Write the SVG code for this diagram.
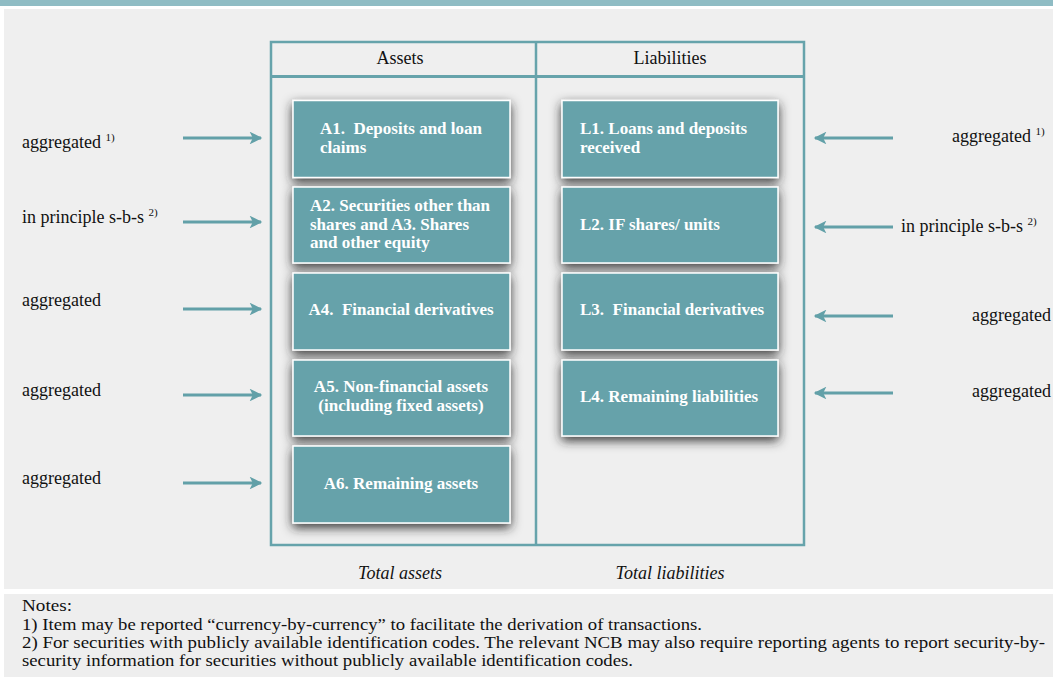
<svg xmlns="http://www.w3.org/2000/svg" width="1053" height="677" viewBox="0 0 1053 677">
<style>
.t{font-family:"Liberation Serif","Times New Roman",serif;font-size:18px;fill:#111}
.n{font-family:"Liberation Serif","Times New Roman",serif;font-size:17px;fill:#111}
.b{font-family:"Liberation Serif","Times New Roman",serif;font-size:17px;font-weight:bold;fill:#fff}
.i{font-style:italic}
.box{fill:#66a2aa;stroke:#ffffff;stroke-width:1.5;filter:url(#sh)}
.arr{stroke:#62a0a8;stroke-width:3;fill:none;marker-end:url(#ah)}
.ln{stroke:#66a3ab;fill:none}
.sup{font-size:11px}
</style>
<defs>
<filter id="sh" x="-20%" y="-30%" width="140%" height="170%">
<feDropShadow dx="0" dy="4" stdDeviation="5.5" flood-color="#222" flood-opacity="0.9"/>
</filter>
<marker id="ah" viewBox="0 0 10 10" refX="9" refY="5" markerWidth="5" markerHeight="4.2" orient="auto" markerUnits="strokeWidth">
<path d="M0,0 L10,5 L0,10 L2.5,5 Z" fill="#62a0a8"/>
</marker>
</defs>
<rect x="0" y="0" width="1053" height="677" fill="#ffffff"/>
<rect x="0" y="0" width="1053" height="6" fill="#8fbcc4"/>
<rect x="4" y="9" width="1049" height="580" fill="#efefef"/>
<rect x="4" y="594" width="1049" height="83" fill="#eeeeee"/>

<g id="table">
<rect class="ln" x="271" y="42" width="533" height="503" stroke-width="2.5"/>
<line class="ln" x1="271" y1="76.5" x2="804" y2="76.5" stroke-width="3"/>
<line class="ln" x1="536" y1="42" x2="536" y2="545" stroke-width="2.5"/>
<text class="t" x="400" y="64" text-anchor="middle">Assets</text>
<text class="t" x="670" y="64" text-anchor="middle">Liabilities</text>
<text class="t i" x="400" y="579" text-anchor="middle">Total assets</text>
<text class="t i" x="670" y="579" text-anchor="middle">Total liabilities</text>
</g>

<g id="A1"><rect class="box" x="293" y="100.5" width="217" height="77"/>
<text class="b" x="320" y="134">A1.&#160; Deposits and loan</text>
<text class="b" x="320" y="153">claims</text></g>
<g id="A2"><rect class="box" x="293" y="187" width="217" height="76"/>
<text class="b" x="310" y="211">A2. Securities other than</text>
<text class="b" x="310" y="229.5">shares and A3. Shares</text>
<text class="b" x="310" y="248">and other equity</text></g>
<g id="A4"><rect class="box" x="293" y="273" width="217" height="77"/>
<text class="b" x="401" y="315" text-anchor="middle">A4.&#160; Financial derivatives</text></g>
<g id="A5"><rect class="box" x="293" y="360" width="217" height="76"/>
<text class="b" x="401" y="392" text-anchor="middle">A5. Non-financial assets</text>
<text class="b" x="401" y="411" text-anchor="middle">(including fixed assets)</text></g>
<g id="A6"><rect class="box" x="293" y="446" width="217" height="77"/>
<text class="b" x="401" y="489" text-anchor="middle">A6. Remaining assets</text></g>

<g id="L1"><rect class="box" x="562" y="100.5" width="216" height="77"/>
<text class="b" x="580" y="134">L1. Loans and deposits</text>
<text class="b" x="580" y="153">received</text></g>
<g id="L2"><rect class="box" x="562" y="187" width="216" height="76"/>
<text class="b" x="580" y="230">L2. IF shares/ units</text></g>
<g id="L3"><rect class="box" x="562" y="273" width="216" height="77"/>
<text class="b" x="580" y="315">L3.&#160; Financial derivatives</text></g>
<g id="L4"><rect class="box" x="562" y="360" width="216" height="76"/>
<text class="b" x="580" y="402">L4. Remaining liabilities</text></g>

<g id="connectors">
<line class="arr" x1="183" y1="138" x2="261" y2="138"/>
<line class="arr" x1="183" y1="222" x2="261" y2="222"/>
<line class="arr" x1="183" y1="309" x2="261" y2="309"/>
<line class="arr" x1="183" y1="395" x2="261" y2="395"/>
<line class="arr" x1="183" y1="483" x2="261" y2="483"/>
<line class="arr" x1="893" y1="138" x2="815" y2="138"/>
<line class="arr" x1="893" y1="227" x2="815" y2="227"/>
<line class="arr" x1="893" y1="316" x2="815" y2="316"/>
<line class="arr" x1="893" y1="393" x2="815" y2="393"/>
</g>

<g id="labels">
<text class="t" x="22" y="148">aggregated <tspan class="sup" dy="-7">1)</tspan></text>
<text class="t" x="22" y="223">in principle s-b-s <tspan class="sup" dy="-7">2)</tspan></text>
<text class="t" x="22" y="306">aggregated</text>
<text class="t" x="22" y="396">aggregated</text>
<text class="t" x="22" y="484">aggregated</text>
<text class="t" x="952" y="142">aggregated <tspan class="sup" dy="-7">1)</tspan></text>
<text class="t" x="901" y="232">in principle s-b-s <tspan class="sup" dy="-7">2)</tspan></text>
<text class="t" x="972" y="321">aggregated</text>
<text class="t" x="972" y="397">aggregated</text>
</g>

<g id="notes">
<text class="n" x="22" y="611" textLength="50" lengthAdjust="spacingAndGlyphs">Notes:</text>
<text class="n" x="22" y="630" textLength="680" lengthAdjust="spacingAndGlyphs">1) Item may be reported “currency-by-currency” to facilitate the derivation of transactions.</text>
<text class="n" x="22" y="648" textLength="1023" lengthAdjust="spacingAndGlyphs">2) For securities with publicly available identification codes. The relevant NCB may also require reporting agents to report security-by-</text>
<text class="n" x="22" y="666" textLength="611" lengthAdjust="spacingAndGlyphs">security information for securities without publicly available identification codes.</text>
</g>
</svg>
